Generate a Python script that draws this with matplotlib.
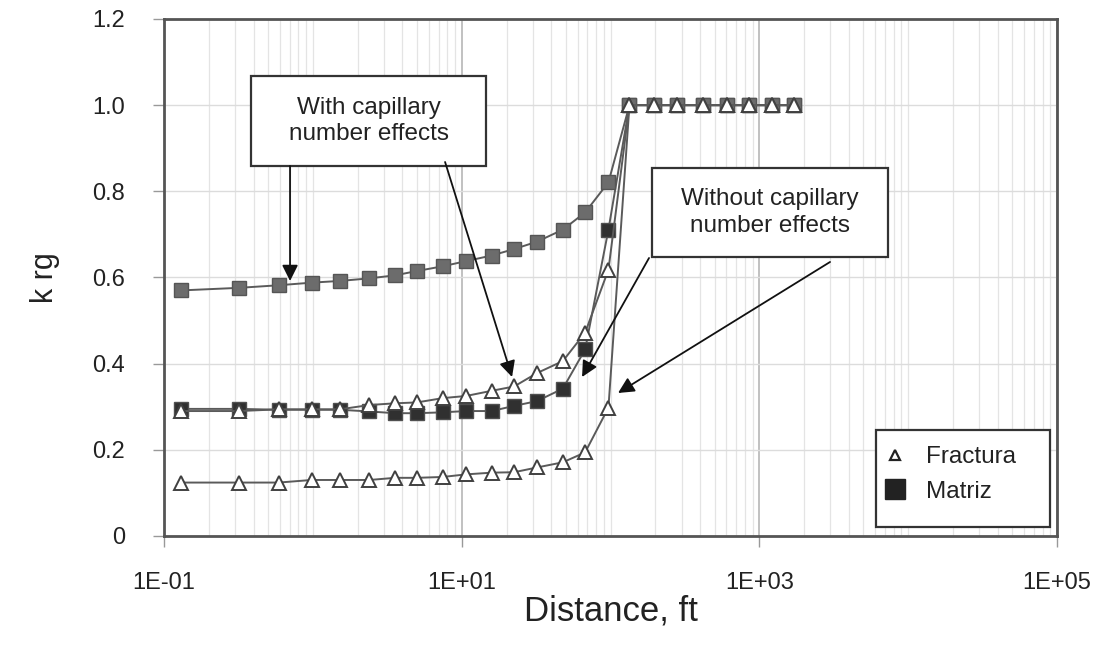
import numpy as np
import matplotlib
matplotlib.use('Agg')
import matplotlib.pyplot as plt
from matplotlib.ticker import FixedLocator, LogLocator, NullFormatter
from matplotlib.lines import Line2D
from matplotlib.patches import Rectangle

plt.rcParams['font.family'] = ['Liberation Sans', 'DejaVu Sans']

# distancia (ft)
distance = [0.13, 0.32, 0.59, 0.98, 1.52, 2.4, 3.57, 5.0, 7.46, 10.7, 15.9, 22.5,
            32.0, 47.8, 67.5, 96.8, 134, 196, 280, 419, 608, 854, 1219, 1714]

# con efecto del numero capilar
krg_matriz_cap = [0.570, 0.576, 0.582, 0.588, 0.592, 0.598, 0.605, 0.615, 0.626, 0.638,
                  0.651, 0.666, 0.683, 0.711, 0.751, 0.821, 1.0, 1.0, 1.0, 1.0, 1.0, 1.0, 1.0, 1.0]
krg_fractura_cap = [0.290, 0.290, 0.294, 0.294, 0.294, 0.304, 0.308, 0.310, 0.320, 0.325,
                    0.337, 0.347, 0.378, 0.406, 0.472, 0.618, 1.0, 1.0, 1.0, 1.0, 1.0, 1.0, 1.0, 1.0]
# sin efecto del numero capilar
krg_matriz_sin = [0.295, 0.295, 0.293, 0.293, 0.293, 0.289, 0.285, 0.285, 0.287, 0.290,
                  0.290, 0.302, 0.313, 0.342, 0.433, 0.711, 1.0, 1.0, 1.0, 1.0, 1.0, 1.0, 1.0, 1.0]
krg_fractura_sin = [0.124, 0.124, 0.124, 0.130, 0.130, 0.130, 0.135, 0.135, 0.137, 0.143,
                    0.147, 0.148, 0.159, 0.171, 0.194, 0.298, 1.0, 1.0, 1.0, 1.0, 1.0, 1.0, 1.0, 1.0]

x_ticks = [1e-1, 1e1, 1e3, 1e5]
x_tick_labels = ['1E-01', '1E+01', '1E+03', '1E+05']
y_ticks = [0, 0.2, 0.4, 0.6, 0.8, 1.0, 1.2]
y_tick_labels = ['0', '0.2', '0.4', '0.6', '0.8', '1.0', '1.2']

fig = plt.figure(figsize=(10.98, 6.46), dpi=100)
ax = fig.add_axes([0.1494, 0.1703, 0.8133, 0.8003])

line_c = '#5a5a5a'
# matriz sin capilar (cuadro oscuro)
ax.plot(distance, krg_matriz_sin, color=line_c, lw=1.4, marker='s', ms=9.5,
        mfc='#303030', mec='#505050', mew=1.0, zorder=3)
# matriz con capilar (cuadro gris)
ax.plot(distance, krg_matriz_cap, color=line_c, lw=1.4, marker='s', ms=9.5,
        mfc='#6c6c6c', mec='#555555', mew=1.0, zorder=4)
# fracturas (triangulos)
ax.plot(distance, krg_fractura_cap, color=line_c, lw=1.4, marker='^', ms=9.5,
        mfc='white', mec='#404040', mew=1.4, zorder=5)
ax.plot(distance, krg_fractura_sin, color=line_c, lw=1.4, marker='^', ms=9.5,
        mfc='white', mec='#404040', mew=1.4, zorder=5)

ax.set_xscale('log')
ax.set_xlim(1e-1, 1e5)
ax.set_ylim(0, 1.2)

ax.xaxis.set_major_locator(FixedLocator(x_ticks))
ax.set_xticklabels(x_tick_labels)
ax.xaxis.set_minor_locator(LogLocator(base=10, subs=np.arange(1, 10), numticks=30))
ax.xaxis.set_minor_formatter(NullFormatter())
ax.set_yticks(y_ticks)
ax.set_yticklabels(y_tick_labels)

ax.tick_params(axis='both', which='major', labelsize=17, length=8, width=1,
               color='#999999', labelcolor='#222222')
ax.tick_params(axis='y', which='major', pad=20)
ax.tick_params(axis='x', which='major', pad=18)
ax.tick_params(axis='x', which='minor', length=0)

ax.grid(True, which='major', axis='y', color='#dcdcdc', lw=1)
ax.grid(True, which='major', axis='x', color='#b0b0b0', lw=1.1)
ax.grid(True, which='minor', axis='x', color='#e4e4e4', lw=0.9)
ax.set_axisbelow(True)

for s in ax.spines.values():
    s.set_color('#555555')
    s.set_linewidth(2)

ax.set_xlabel('Distance, ft', fontsize=25, color='#222222', labelpad=0)
ax.set_ylabel('k rg', fontsize=22, color='#222222', labelpad=23)

# cajas de texto
tr = ax.transAxes
ax.add_patch(Rectangle((0.0974, 0.7157), 0.263, 0.174, transform=tr, fc='white',
                       ec='#333333', lw=1.6, zorder=7))
ax.text(0.229, 0.803, 'With capillary\nnumber effects', transform=tr, ha='center',
        va='center', fontsize=17.5, color='#222222', linespacing=1.25, zorder=8)
ax.add_patch(Rectangle((0.5465, 0.5397), 0.2643, 0.172, transform=tr, fc='white',
                       ec='#333333', lw=1.6, zorder=7))
ax.text(0.6786, 0.6257, 'Without capillary\nnumber effects', transform=tr, ha='center',
        va='center', fontsize=17.5, color='#222222', linespacing=1.25, zorder=8)

arrows = [((0.1411, 0.7157), (0.1411, 0.4932)),
          ((0.3147, 0.7234), (0.3897, 0.3075)),
          ((0.5431, 0.5377), (0.4681, 0.3075)),
          ((0.7458, 0.5300), (0.5084, 0.2766))]
for start, end in arrows:
    ax.annotate('', xy=end, xytext=start, xycoords=tr, textcoords=tr,
                arrowprops=dict(arrowstyle='-|>', color='#111111', lw=1.3,
                                mutation_scale=24, shrinkA=0, shrinkB=0),
                zorder=9)

# leyenda: marco dibujado aparte
ax.add_patch(Rectangle((0.797, 0.0174), 0.195, 0.188, transform=tr, fc='white',
                       ec='#333333', lw=1.6, zorder=10))
handles = [Line2D([], [], ls='none', marker='^', ms=7, mfc='white', mec='#222222', mew=1.6),
           Line2D([], [], ls='none', marker='s', ms=14, mfc='#222222', mec='#222222')]
leg = ax.legend(handles, ['Fractura', 'Matriz'], loc='upper left',
                bbox_to_anchor=(0.805, 0.174), fontsize=17.5, frameon=False,
                borderpad=0, handletextpad=0.77, labelspacing=0.53,
                borderaxespad=0, handlelength=1.0)
leg.set_zorder(11)
for t in leg.get_texts():
    t.set_color('#222222')

fig.savefig('out.png', dpi=100, facecolor='white')
